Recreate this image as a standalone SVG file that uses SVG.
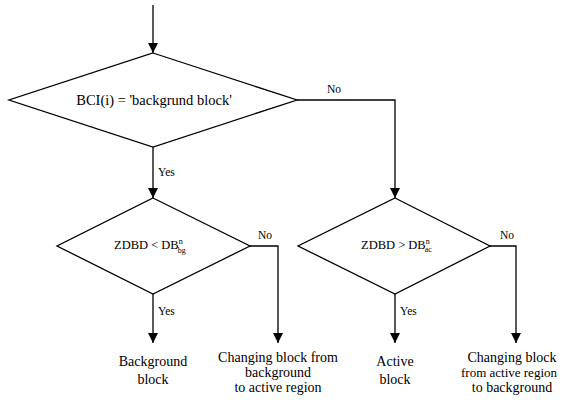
<svg xmlns="http://www.w3.org/2000/svg" width="562" height="402" viewBox="0 0 562 402" font-family="'Liberation Serif', 'Times New Roman', 'DejaVu Serif', serif">
<style>
.s{fill:none;stroke:#000;stroke-width:1.3}
.d{fill:#fff;stroke:#000;stroke-width:1.3}
.t{font-size:14px;text-anchor:middle}
.l{font-size:11.5px}
.sm{font-size:8px}
</style>
<defs>
<marker id="a" viewBox="0 0 10 10" refX="10" refY="5" markerWidth="10" markerHeight="10" markerUnits="userSpaceOnUse" orient="auto">
<path d="M0,0 L10,5 L0,10 z" fill="#000"/>
</marker>
</defs>
<rect width="562" height="402" fill="#fff"/>
<g id="connectors">
<path class="s" d="M153,5 V53" marker-end="url(#a)"/>
<path class="s" d="M153,147 V198" marker-end="url(#a)"/>
<path class="s" d="M297,100 H395 V198" marker-end="url(#a)"/>
<path class="s" d="M153,294 V343" marker-end="url(#a)"/>
<path class="s" d="M250,246 H278 V343" marker-end="url(#a)"/>
<path class="s" d="M395,294 V343" marker-end="url(#a)"/>
<path class="s" d="M490,246 H516 V343" marker-end="url(#a)"/>
<text class="l" x="327" y="93">No</text>
<text class="l" x="158" y="176">Yes</text>
<text class="l" x="258" y="239">No</text>
<text class="l" x="158" y="315">Yes</text>
<text class="l" x="500" y="239">No</text>
<text class="l" x="400" y="315">Yes</text>
</g>
<g id="d1">
<polygon class="d" points="153,53 297,100 153,147 9,100"/>
<text class="t" x="154" y="105" style="font-size:14.5px">BCI(i) = 'backgrund block'</text>
</g>
<g id="d2">
<polygon class="d" points="153,198 250,246 153,294 57,246"/>
<text x="114" y="249" style="font-size:12.5px">ZDBD &lt; DB<tspan class="sm" dy="-5">n</tspan><tspan class="sm" dx="-5" dy="9">bg</tspan></text>
</g>
<g id="d3">
<polygon class="d" points="395,198 490,246 395,294 298,246"/>
<text x="361" y="249" style="font-size:12.5px">ZDBD &gt; DB<tspan class="sm" dy="-5">n</tspan><tspan class="sm" dx="-5" dy="8">ac</tspan></text>
</g>
<g id="n1">
<text class="t" x="153" y="366">Background</text>
<text class="t" x="153" y="384">block</text>
</g>
<g id="n2">
<text class="t" x="278" y="362">Changing block from</text>
<text class="t" x="278" y="377">background</text>
<text class="t" x="278" y="392">to active region</text>
</g>
<g id="n3">
<text class="t" x="395" y="366">Active</text>
<text class="t" x="395" y="384">block</text>
</g>
<g id="n4">
<text class="t" x="512" y="362">Changing block</text>
<text class="t" x="509" y="377" style="font-size:13px">from active region</text>
<text class="t" x="512" y="392">to background</text>
</g>
</svg>
